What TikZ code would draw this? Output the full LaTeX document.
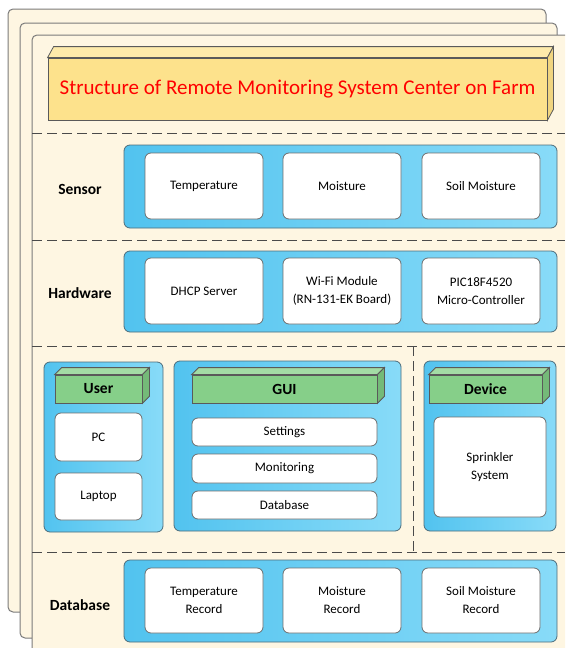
\documentclass[tikz,border=0pt]{standalone}
\usepackage{fontspec}
\setmainfont{Carlito}
\definecolor{cream}{HTML}{FEF6E2}
\definecolor{pageline}{HTML}{7A7A7A}
\definecolor{darkline}{HTML}{5A5A5A}
\definecolor{boxline}{HTML}{6E6E6E}
\definecolor{bandline}{HTML}{4E6C7A}
\definecolor{sepline}{HTML}{4A4A4A}
\definecolor{blueL}{HTML}{52C3EF}
\definecolor{blueR}{HTML}{88DBF8}
\definecolor{titleF}{HTML}{FDE28C}
\definecolor{titleT}{HTML}{FDEAAA}
\definecolor{titleS}{HTML}{F1D57F}
\definecolor{greenF}{HTML}{86CF89}
\definecolor{greenT}{HTML}{A3DCA5}
\definecolor{greenS}{HTML}{74BA78}

\begin{document}
\begin{tikzpicture}[x=1pt,y=-1pt]
\tikzstyle{every node}=[align=center, inner sep=0pt, font=\fontsize{13}{18}\selectfont]
\tikzstyle{page}=[draw=pageline, fill=cream, rounded corners=5pt, line width=1pt]
\tikzstyle{band}=[draw=bandline, left color=blueL, right color=blueR, rounded corners=6pt, line width=0.8pt]
\tikzstyle{box}=[draw=boxline, fill=white, rounded corners=6pt, line width=0.8pt]
\tikzstyle{head}=[draw=darkline, fill=greenF, line width=0.8pt, minimum height=28pt, font=\fontsize{15.5}{17}\selectfont\bfseries]
\tikzstyle{layer}=[font=\fontsize{15.5}{17}\selectfont\bfseries]
\tikzstyle{sep}=[draw=sepline, dash pattern=on 10pt off 5pt, line width=0.9pt]
\useasboundingbox (0,0) rectangle (565,648);
\clip (0,0) rectangle (565,648);
% stacked pages
\draw[page] (8,9) rectangle (546,612);
\draw[page] (20,23) rectangle (557,638);
\draw[page] (32,35) rectangle (585,670);
% title block
\draw (297.5,89) node (title) [draw=darkline, fill=titleF, line width=0.8pt, minimum width=499pt, minimum height=62pt, text=red, font=\fontsize{21}{24}\selectfont] {Structure of Remote Monitoring System Center on Farm};
\draw[draw=darkline, fill=titleT, line width=0.8pt] (title.north west) -- ([shift={(6,-11)}]title.north west) -- ([shift={(6,-11)}]title.north east) -- (title.north east) -- cycle;
\draw[draw=darkline, fill=titleS, line width=0.8pt] (title.north east) -- ([shift={(6,-11)}]title.north east) -- ([shift={(6,-11)}]title.south east) -- (title.south east) -- cycle;
% separators
\draw[sep] (32,133) -- (565,133);
\draw[sep] (32,240) -- (565,240);
\draw[sep] (32,346) -- (565,346);
\draw[sep] (32,552) -- (565,552);
\draw[sep] (413,346) -- (413,552);
% sensor layer
\draw (80,189) node (sensorlbl) [layer] {Sensor};
\draw (340.5,186.5) node (sensor) [band, minimum width=433pt, minimum height=83pt] {};
\draw (204,186) node (temp) [box, minimum width=118pt, minimum height=66pt] {Temperature};
\draw (342,186) node (moist) [box, minimum width=118pt, minimum height=66pt] {Moisture};
\draw (481,186) node (soil) [box, minimum width=118pt, minimum height=66pt] {Soil Moisture};
% hardware layer
\draw (80,293) node (hwlbl) [layer] {Hardware};
\draw (340.5,291.5) node (hw) [band, minimum width=433pt, minimum height=81pt] {};
\draw (204,291) node (dhcp) [box, minimum width=118pt, minimum height=66pt] {DHCP Server};
\draw (342,291) node (wifi) [box, minimum width=118pt, minimum height=66pt] {Wi-Fi Module\\(RN-131-EK Board)};
\draw (481,291) node (pic) [box, minimum width=118pt, minimum height=66pt] {PIC18F4520\\Micro-Controller};
% user
\draw (103.5,447) node (user) [band, minimum width=119pt, minimum height=170pt] {};
\draw (98.5,389) node (userhd) [head, minimum width=87pt] {User};
\draw (98.5,437) node (pc) [box, minimum width=87pt, minimum height=48pt] {PC};
\draw (98.5,496.5) node (laptop) [box, minimum width=87pt, minimum height=47pt] {Laptop};
% gui
\draw (287.5,446) node (gui) [band, minimum width=227pt, minimum height=170pt] {};
\draw (284.5,389) node (guihd) [head, minimum width=185pt] {GUI};
\draw (284.5,432) node (settings) [box, minimum width=185pt, minimum height=28pt] {Settings};
\draw (284.5,468.5) node (monitor) [box, minimum width=185pt, minimum height=29pt] {Monitoring};
\draw (284.5,505) node (guidb) [box, minimum width=185pt, minimum height=28pt] {Database};
% device
\draw (490,446) node (device) [band, minimum width=132pt, minimum height=170pt] {};
\draw (485.5,389) node (devicehd) [head, minimum width=113pt] {Device};
\draw (490,467) node (sprinkler) [box, minimum width=112pt, minimum height=100pt] {Sprinkler\\System};
% 3d faces of the headers
\foreach \h in {userhd,guihd,devicehd} {
  \draw[draw=darkline, fill=greenT, line width=0.8pt] (\h.north west) -- ([shift={(7,-7)}]\h.north west) -- ([shift={(7,-7)}]\h.north east) -- (\h.north east) -- cycle;
  \draw[draw=darkline, fill=greenS, line width=0.8pt] (\h.north east) -- ([shift={(7,-7)}]\h.north east) -- ([shift={(7,-7)}]\h.south east) -- (\h.south east) -- cycle;
}
% database layer
\draw (80,605) node (dblbl) [layer] {Database};
\draw (340.5,601) node (db) [band, minimum width=433pt, minimum height=82pt] {};
\draw (204,600.5) node (temprec) [box, minimum width=118pt, minimum height=65pt] {Temperature\\Record};
\draw (342,600.5) node (moistrec) [box, minimum width=118pt, minimum height=65pt] {Moisture\\Record};
\draw (481,600.5) node (soilrec) [box, minimum width=118pt, minimum height=65pt] {Soil Moisture\\Record};
\end{tikzpicture}
\end{document}
